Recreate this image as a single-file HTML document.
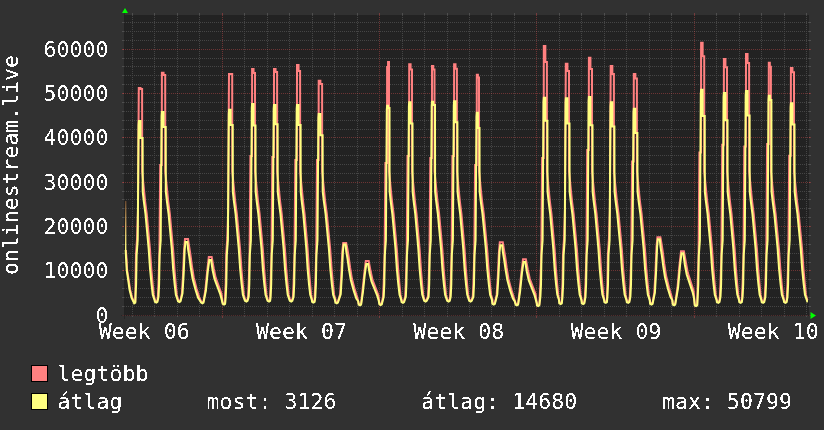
<!DOCTYPE html>
<html><head><meta charset="utf-8"><style>
html,body{margin:0;padding:0;background:#313131;overflow:hidden;}
svg{display:block;}
text{filter:url(#crisp);font-family:"DejaVu Sans Mono","Liberation Mono",monospace;font-size:21.5px;letter-spacing:0.056px;fill:#ffffff;}
</style></head><body>
<svg width="824" height="430" viewBox="0 0 824 430">
<rect x="0" y="0" width="824" height="430" fill="#313131"/>
<rect x="124" y="15" width="685" height="301" fill="#222222"/>

<path d="M124,306.5H809M124,297.5H809M124,288.5H809M124,279.5H809M124,262.5H809M124,253.5H809M124,244.5H809M124,235.5H809M124,217.5H809M124,208.5H809M124,199.5H809M124,191.5H809M124,173.5H809M124,164.5H809M124,155.5H809M124,146.5H809M124,129.5H809M124,120.5H809M124,111.5H809M124,102.5H809M124,84.5H809M124,75.5H809M124,66.5H809M124,58.5H809M124,40.5H809M124,31.5H809M124,22.5H809M132.5,15V316M154.5,15V316M177.5,15V316M199.5,15V316M244.5,15V316M267.5,15V316M289.5,15V316M312.5,15V316M334.5,15V316M357.5,15V316M402.5,15V316M424.5,15V316M447.5,15V316M469.5,15V316M491.5,15V316M514.5,15V316M559.5,15V316M581.5,15V316M604.5,15V316M626.5,15V316M649.5,15V316M671.5,15V316M716.5,15V316M739.5,15V316M761.5,15V316M784.5,15V316M806.5,15V316" stroke="rgb(143,143,143)" stroke-opacity="0.32" stroke-width="1" shape-rendering="crispEdges" fill="none" stroke-dasharray="1 1"/>
<path d="M122,306.5H124M809,306.5H811M122,297.5H124M809,297.5H811M122,288.5H124M809,288.5H811M122,279.5H124M809,279.5H811M122,262.5H124M809,262.5H811M122,253.5H124M809,253.5H811M122,244.5H124M809,244.5H811M122,235.5H124M809,235.5H811M122,217.5H124M809,217.5H811M122,208.5H124M809,208.5H811M122,199.5H124M809,199.5H811M122,191.5H124M809,191.5H811M122,173.5H124M809,173.5H811M122,164.5H124M809,164.5H811M122,155.5H124M809,155.5H811M122,146.5H124M809,146.5H811M122,129.5H124M809,129.5H811M122,120.5H124M809,120.5H811M122,111.5H124M809,111.5H811M122,102.5H124M809,102.5H811M122,84.5H124M809,84.5H811M122,75.5H124M809,75.5H811M122,66.5H124M809,66.5H811M122,58.5H124M809,58.5H811M122,40.5H124M809,40.5H811M122,31.5H124M809,31.5H811M122,22.5H124M809,22.5H811M132.5,13V15M132.5,316V317M154.5,13V15M154.5,316V317M177.5,13V15M177.5,316V317M199.5,13V15M199.5,316V317M244.5,13V15M244.5,316V317M267.5,13V15M267.5,316V317M289.5,13V15M289.5,316V317M312.5,13V15M312.5,316V317M334.5,13V15M334.5,316V317M357.5,13V15M357.5,316V317M402.5,13V15M402.5,316V317M424.5,13V15M424.5,316V317M447.5,13V15M447.5,316V317M469.5,13V15M469.5,316V317M491.5,13V15M491.5,316V317M514.5,13V15M514.5,316V317M559.5,13V15M559.5,316V317M581.5,13V15M581.5,316V317M604.5,13V15M604.5,316V317M626.5,13V15M626.5,316V317M649.5,13V15M649.5,316V317M671.5,13V15M671.5,316V317M716.5,13V15M716.5,316V317M739.5,13V15M739.5,316V317M761.5,13V15M761.5,316V317M784.5,13V15M784.5,316V317M806.5,13V15M806.5,316V317" stroke="rgb(143,143,143)" stroke-opacity="0.32" stroke-width="1" shape-rendering="crispEdges" fill="none"/>
<path d="M123,315.5H811M123,270.5H811M123,226.5H811M123,182.5H811M123,137.5H811M123,93.5H811M123,49.5H811M222.5,15V316M379.5,15V316M536.5,15V316M694.5,15V316" stroke="rgb(222,79,79)" stroke-opacity="0.40" stroke-width="1" shape-rendering="crispEdges" fill="none" stroke-dasharray="1 1"/>
<path d="M122,315.5H124M809,315.5H811M122,270.5H124M809,270.5H811M122,226.5H124M809,226.5H811M122,182.5H124M809,182.5H811M122,137.5H124M809,137.5H811M122,93.5H124M809,93.5H811M122,49.5H124M809,49.5H811M222.5,13V15M222.5,316V318M379.5,13V15M379.5,316V318M536.5,13V15M536.5,316V318M694.5,13V15M694.5,316V318" stroke="rgb(222,79,79)" stroke-opacity="0.40" stroke-width="1" shape-rendering="crispEdges" fill="none"/>
<defs><filter id="crisp" x="0" y="0" width="100%" height="100%" color-interpolation-filters="sRGB"><feComponentTransfer><feFuncA type="discrete" tableValues="0 1"/></feComponentTransfer></filter></defs>
<defs><linearGradient id="g0" x1="0" y1="0" x2="0" y2="1"><stop offset="0" stop-color="#6a4a30"/><stop offset="0.5" stop-color="#d0a860"/><stop offset="1" stop-color="#ffff80"/></linearGradient></defs>
<rect x="125" y="201" width="1.4" height="50" fill="url(#g0)"/>
<path d="M125.90,250.00 L126.60,260.00 L127.10,270.00 L128.70,280.00 L130.10,289.50 L132.10,297.50 L134.20,302.30 L135.30,301.50 L135.50,283.14 L136.00,254.32 L137.10,237.92 L138.00,209.10 L138.80,87.90 L140.50,87.90 L140.50,89.10 L142.10,89.10 L142.15,171.42 L145.09,201.12 L146.72,213.53 L148.35,231.27 L149.98,249.00 L151.34,268.95 L152.72,284.47 L153.71,294.66 L155.10,300.70 L156.30,301.50 L157.40,300.70 L157.90,295.99 L158.50,283.14 L159.40,254.32 L160.20,165.00 L161.80,165.00 L161.90,72.80 L163.55,72.80 L163.55,74.90 L165.20,74.90 L165.25,171.42 L168.19,201.12 L169.82,213.53 L171.45,231.27 L173.08,249.00 L174.44,268.95 L175.81,284.47 L176.81,294.66 L178.20,300.20 L179.40,301.00 L180.50,300.20 L181.90,293.45 L183.00,275.07 L184.10,249.35 L185.00,239.00 L188.00,239.00 L189.20,246.70 L190.40,254.35 L191.90,265.81 L193.70,277.28 L196.60,288.75 L199.20,297.15 L201.10,301.50 L202.40,302.30 L203.50,301.50 L205.30,290.52 L207.20,271.10 L208.80,257.00 L211.70,257.00 L213.70,268.17 L215.60,277.40 L218.90,286.64 L221.40,293.57 L222.70,302.70 L224.00,303.50 L225.10,302.70 L225.10,295.99 L225.70,283.14 L226.20,254.32 L227.30,237.92 L228.20,209.10 L229.00,73.90 L230.65,73.90 L230.65,73.90 L232.20,73.90 L232.25,171.42 L235.19,201.12 L236.82,213.53 L238.45,231.27 L240.08,249.00 L241.44,268.95 L242.81,284.47 L243.81,294.66 L245.20,299.80 L246.40,300.60 L247.50,299.80 L248.10,295.99 L248.70,283.14 L249.60,254.32 L250.40,156.00 L252.00,156.00 L252.10,69.00 L253.55,69.00 L253.55,73.00 L255.00,73.00 L255.05,171.42 L257.97,201.12 L259.58,213.53 L261.19,231.27 L262.80,249.00 L264.14,268.95 L265.49,284.47 L266.47,294.66 L267.80,299.80 L269.00,300.60 L270.10,299.80 L270.60,283.14 L271.50,254.32 L272.30,157.00 L273.90,157.00 L274.00,69.00 L275.55,69.00 L275.55,72.10 L277.10,72.10 L277.15,171.42 L280.08,201.12 L281.70,213.53 L283.32,231.27 L284.94,249.00 L286.29,268.95 L287.65,284.47 L288.64,294.66 L290.00,299.70 L291.20,300.50 L292.30,299.70 L293.00,295.99 L293.60,283.14 L294.50,254.32 L295.30,160.00 L296.90,160.00 L297.00,65.10 L298.55,65.10 L298.55,71.10 L300.10,71.10 L300.15,171.42 L303.02,201.12 L304.56,213.53 L306.10,231.27 L307.63,249.00 L308.91,268.95 L310.20,284.47 L311.12,294.66 L312.30,300.70 L313.50,301.50 L314.60,300.70 L314.70,295.99 L315.30,283.14 L316.20,254.32 L317.00,160.00 L318.60,160.00 L318.70,80.70 L320.40,80.70 L320.40,84.00 L322.10,84.00 L322.15,171.42 L325.13,201.12 L326.82,213.53 L328.51,231.27 L330.20,249.00 L331.61,268.95 L333.04,284.47 L334.08,294.66 L335.59,299.98 L335.60,301.50 L336.80,302.30 L337.90,301.50 L340.10,294.20 L341.20,276.45 L342.30,251.60 L343.20,243.00 L346.20,243.00 L347.40,249.04 L348.60,256.43 L350.10,267.50 L351.90,278.58 L354.80,289.66 L357.40,297.78 L358.70,303.60 L360.00,304.40 L361.10,303.60 L362.30,292.32 L364.20,274.30 L365.80,261.00 L368.70,261.00 L370.70,271.58 L372.60,280.15 L375.90,288.72 L378.40,295.15 L379.40,303.20 L380.70,304.00 L381.80,303.20 L383.10,295.99 L383.70,283.14 L384.60,254.32 L385.40,163.00 L387.00,163.00 L387.10,67.00 L388.05,67.00 L388.05,62.10 L389.00,62.10 L389.05,171.42 L391.97,201.12 L393.58,213.53 L395.19,231.27 L396.80,249.00 L398.14,268.95 L399.49,284.47 L400.47,294.66 L401.80,301.00 L403.00,301.80 L404.10,301.00 L405.20,295.99 L405.80,283.14 L406.70,254.32 L407.50,156.00 L409.10,156.00 L409.20,64.20 L410.60,64.20 L410.60,69.40 L412.00,69.40 L412.05,171.42 L414.94,201.12 L416.50,213.53 L418.06,231.27 L419.62,249.00 L420.92,268.95 L422.23,284.47 L423.17,294.66 L424.40,299.80 L425.60,300.60 L426.70,299.80 L428.00,295.99 L428.60,283.14 L429.50,254.32 L430.30,158.00 L431.90,158.00 L432.00,66.10 L433.25,66.10 L433.25,69.40 L434.50,69.40 L434.55,171.42 L437.48,201.12 L439.10,213.53 L440.72,231.27 L442.34,249.00 L443.69,268.95 L445.05,284.47 L446.04,294.66 L447.40,299.80 L448.60,300.60 L449.70,299.80 L450.10,295.99 L450.70,283.14 L451.60,254.32 L452.40,156.00 L454.00,156.00 L454.10,64.20 L455.50,64.20 L455.50,68.80 L456.90,68.80 L456.95,171.42 L459.85,201.12 L461.42,213.53 L462.99,231.27 L464.56,249.00 L465.87,268.95 L467.19,284.47 L468.14,294.66 L469.40,299.80 L470.60,300.60 L471.70,299.80 L472.80,295.99 L473.40,283.14 L474.30,254.32 L475.10,165.00 L476.70,165.00 L476.80,74.80 L477.90,74.80 L477.90,77.60 L479.00,77.60 L479.05,171.42 L482.04,201.12 L483.74,213.53 L485.44,231.27 L487.15,249.00 L488.57,268.95 L490.01,284.47 L491.06,294.66 L492.58,299.98 L492.60,302.70 L493.80,303.50 L494.90,302.70 L496.70,294.41 L497.80,276.83 L498.90,252.23 L499.80,242.20 L502.80,242.20 L504.00,249.70 L505.20,257.01 L506.70,267.98 L508.50,278.94 L511.40,289.91 L514.00,297.95 L515.70,303.60 L517.00,304.40 L518.10,303.60 L519.50,291.43 L521.40,272.70 L523.00,259.30 L525.90,259.30 L527.90,269.88 L529.80,278.78 L533.10,287.68 L535.60,294.36 L536.90,304.40 L538.20,305.20 L539.30,304.40 L539.80,295.99 L540.40,283.14 L541.30,254.32 L542.10,158.00 L543.70,158.00 L543.80,45.90 L545.35,45.90 L545.35,62.10 L546.90,62.10 L546.95,171.42 L549.86,201.12 L551.44,213.53 L553.02,231.27 L554.61,249.00 L555.93,268.95 L557.25,284.47 L558.22,294.66 L559.50,302.20 L560.70,303.00 L561.80,302.20 L561.90,295.99 L562.50,283.14 L563.00,254.32 L564.10,237.92 L565.00,209.10 L565.80,63.80 L567.45,63.80 L567.45,71.10 L569.00,71.10 L569.05,171.42 L571.99,201.12 L573.62,213.53 L575.25,231.27 L576.88,249.00 L578.24,268.95 L579.62,284.47 L580.61,294.66 L582.00,302.20 L583.20,303.00 L584.30,302.20 L584.90,295.99 L585.50,283.14 L586.40,254.32 L587.20,150.00 L588.80,150.00 L588.90,57.70 L590.45,57.70 L590.45,69.00 L592.00,69.00 L592.05,171.42 L594.96,201.12 L596.54,213.53 L598.12,231.27 L599.71,249.00 L601.03,268.95 L602.35,284.47 L603.32,294.66 L604.60,301.00 L605.80,301.80 L606.90,301.00 L607.40,283.14 L607.90,254.32 L609.00,237.92 L609.90,209.10 L610.70,65.90 L612.35,65.90 L612.35,74.10 L613.90,74.10 L613.95,171.42 L616.90,201.12 L618.54,213.53 L620.18,231.27 L621.83,249.00 L623.20,268.95 L624.58,284.47 L625.59,294.66 L627.00,301.00 L628.20,301.80 L629.30,301.00 L629.80,295.99 L630.40,283.14 L631.30,254.32 L632.10,161.50 L633.70,161.50 L633.80,73.90 L635.35,73.90 L635.35,78.40 L636.90,78.40 L636.95,171.42 L639.92,201.12 L641.60,213.53 L643.28,231.27 L644.96,249.00 L646.36,268.95 L647.77,284.47 L648.81,294.66 L650.30,302.70 L651.50,303.50 L652.60,302.70 L654.30,292.61 L655.40,273.53 L656.50,246.83 L657.40,237.20 L660.40,237.20 L661.60,244.08 L662.80,252.02 L664.30,263.92 L666.10,275.82 L669.00,287.73 L671.60,296.46 L672.80,303.60 L674.10,304.40 L675.20,303.60 L677.50,287.51 L679.40,265.74 L681.00,251.20 L683.90,251.20 L685.90,262.46 L687.80,272.81 L691.10,283.16 L693.60,290.92 L694.80,304.40 L696.10,305.20 L697.20,304.40 L697.70,283.14 L698.60,254.32 L699.40,152.60 L701.00,152.60 L701.10,42.80 L702.65,42.80 L702.65,56.20 L704.20,56.20 L704.25,171.42 L707.18,201.12 L708.80,213.53 L710.42,231.27 L712.04,249.00 L713.39,268.95 L714.75,284.47 L715.74,294.66 L717.10,301.00 L718.30,301.80 L719.40,301.00 L719.90,295.99 L720.50,283.14 L721.40,254.32 L722.20,144.70 L723.80,144.70 L723.90,59.10 L725.45,59.10 L725.45,67.30 L727.00,67.30 L727.05,171.42 L729.95,201.12 L731.52,213.53 L733.09,231.27 L734.66,249.00 L735.97,268.95 L737.29,284.47 L738.24,294.66 L739.50,301.00 L740.70,301.80 L741.80,301.00 L742.00,295.99 L742.60,283.14 L743.50,254.32 L744.30,146.60 L745.90,146.60 L746.00,54.00 L747.55,54.00 L747.55,63.10 L749.10,63.10 L749.15,171.42 L752.07,201.12 L753.68,213.53 L755.29,231.27 L756.90,249.00 L758.24,268.95 L759.59,284.47 L760.57,294.66 L761.90,301.00 L763.10,301.80 L764.20,301.00 L764.80,295.99 L765.40,283.14 L766.30,254.32 L767.10,143.90 L768.70,143.90 L768.80,62.80 L769.85,62.80 L769.85,66.80 L770.90,66.80 L770.95,171.42 L773.92,201.12 L775.60,213.53 L777.28,231.27 L778.96,249.00 L780.36,268.95 L781.77,284.47 L782.81,294.66 L784.30,301.00 L785.50,301.80 L786.60,301.00 L786.90,295.99 L787.50,283.14 L788.40,254.32 L789.20,155.70 L790.80,155.70 L790.90,68.00 L792.45,68.00 L792.45,72.20 L794.00,72.20 L794.05,171.42 L797.02,201.12 L798.70,213.53 L800.38,231.27 L802.06,249.00 L803.46,268.95 L804.88,284.47 L805.91,294.66 L807.40,300.20 L808.00,300.40" fill="none" stroke="#ff8080" stroke-width="2" stroke-linejoin="miter" stroke-miterlimit="2"/>
<path d="M125.50,250.00 L126.20,260.00 L126.70,270.00 L128.20,280.00 L129.60,290.00 L131.60,298.00 L134.20,303.30 L135.30,302.60 L135.50,296.88 L136.10,284.47 L136.60,255.21 L137.70,240.13 L138.60,125.00 L138.90,121.00 L140.50,121.00 L140.50,138.00 L142.60,138.00 L142.70,191.37 L143.79,201.12 L145.42,213.53 L147.05,231.27 L148.68,249.00 L150.04,268.95 L151.54,284.47 L152.76,294.66 L154.53,299.98 L154.90,301.80 L156.30,302.50 L157.40,301.80 L158.50,296.88 L159.10,284.47 L159.60,255.21 L160.70,240.13 L161.60,115.90 L161.90,111.90 L163.55,111.90 L163.55,127.10 L165.70,127.10 L165.80,191.37 L166.89,201.12 L168.52,213.53 L170.15,231.27 L171.78,249.00 L173.14,268.95 L174.64,284.47 L175.86,294.66 L177.63,299.98 L178.00,301.30 L179.40,302.00 L180.50,301.30 L182.50,293.45 L183.60,275.07 L184.70,249.35 L185.50,242.00 L187.40,242.00 L188.10,249.35 L189.30,256.70 L190.80,267.73 L192.60,278.75 L195.50,289.77 L198.10,297.86 L200.00,300.80 L201.10,302.60 L202.40,303.30 L203.50,302.60 L205.90,290.52 L207.80,271.10 L209.30,260.00 L211.10,260.00 L212.60,269.99 L214.50,278.87 L217.80,287.75 L220.30,294.41 L221.80,299.96 L222.70,303.80 L224.00,304.50 L225.10,303.80 L225.70,296.88 L226.30,284.47 L226.80,255.21 L227.90,240.13 L228.80,113.70 L229.10,109.70 L230.65,109.70 L230.65,124.90 L232.70,124.90 L232.80,191.37 L233.89,201.12 L235.52,213.53 L237.15,231.27 L238.78,249.00 L240.14,268.95 L241.64,284.47 L242.86,294.66 L244.63,299.98 L245.00,300.90 L246.40,301.60 L247.50,300.90 L248.70,296.88 L249.30,284.47 L249.80,255.21 L250.90,240.13 L251.80,107.90 L252.10,103.90 L253.55,103.90 L253.55,125.50 L255.50,125.50 L255.60,191.37 L256.67,201.12 L258.28,213.53 L259.89,231.27 L261.50,249.00 L262.84,268.95 L264.31,284.47 L265.52,294.66 L267.26,299.98 L267.60,300.90 L269.00,301.60 L270.10,300.90 L270.60,296.88 L271.20,284.47 L271.70,255.21 L272.80,240.13 L273.70,108.90 L274.00,104.90 L275.55,104.90 L275.55,124.30 L277.60,124.30 L277.70,191.37 L278.78,201.12 L280.40,213.53 L282.02,231.27 L283.64,249.00 L284.99,268.95 L286.48,284.47 L287.69,294.66 L289.44,299.98 L289.80,300.80 L291.20,301.50 L292.30,300.80 L293.60,296.88 L294.20,284.47 L294.70,255.21 L295.80,240.13 L296.70,108.90 L297.00,104.90 L298.55,104.90 L298.55,124.90 L300.60,124.90 L300.70,191.37 L301.72,201.12 L303.26,213.53 L304.80,231.27 L306.33,249.00 L307.61,268.95 L309.02,284.47 L310.17,294.66 L311.84,299.98 L312.10,301.80 L313.50,302.50 L314.60,301.80 L315.30,296.88 L315.90,284.47 L316.40,255.21 L317.50,240.13 L318.40,118.00 L318.70,114.00 L320.40,114.00 L320.40,135.20 L322.60,135.20 L322.70,191.37 L323.83,201.12 L325.52,213.53 L327.21,231.27 L328.90,249.00 L330.31,268.95 L331.87,284.47 L333.13,294.66 L334.97,299.98 L335.40,302.60 L336.80,303.30 L337.90,302.60 L340.70,294.20 L341.80,276.45 L342.90,251.60 L343.70,244.50 L345.60,244.50 L346.30,251.60 L347.50,258.70 L349.00,269.35 L350.80,280.00 L353.70,290.65 L356.30,298.46 L358.20,301.30 L358.70,304.70 L360.00,305.40 L361.10,304.70 L362.90,292.32 L364.80,274.30 L366.30,264.00 L368.10,264.00 L369.60,273.27 L371.50,281.51 L374.80,289.75 L377.30,295.93 L378.80,301.08 L379.40,304.30 L380.70,305.00 L381.80,304.30 L383.70,296.88 L384.30,284.47 L384.80,255.21 L385.90,240.13 L386.80,109.70 L387.10,105.70 L388.05,105.70 L388.05,108.00 L389.50,108.00 L389.60,191.37 L390.67,201.12 L392.28,213.53 L393.89,231.27 L395.50,249.00 L396.84,268.95 L398.31,284.47 L399.52,294.66 L401.26,299.98 L401.60,302.10 L403.00,302.80 L404.10,302.10 L405.80,296.88 L406.40,284.47 L406.90,255.21 L408.00,240.13 L408.90,106.20 L409.20,102.20 L410.60,102.20 L410.60,123.50 L412.50,123.50 L412.60,191.37 L413.64,201.12 L415.20,213.53 L416.76,231.27 L418.32,249.00 L419.62,268.95 L421.05,284.47 L422.22,294.66 L423.91,299.98 L424.20,300.90 L425.60,301.60 L426.70,300.90 L428.60,296.88 L429.20,284.47 L429.70,255.21 L430.80,240.13 L431.70,105.70 L432.00,101.70 L433.25,101.70 L433.25,105.00 L435.00,105.00 L435.10,191.37 L436.18,201.12 L437.80,213.53 L439.42,231.27 L441.04,249.00 L442.39,268.95 L443.88,284.47 L445.09,294.66 L446.85,299.98 L447.20,300.90 L448.60,301.60 L449.70,300.90 L450.70,296.88 L451.30,284.47 L451.80,255.21 L452.90,240.13 L453.80,105.30 L454.10,101.30 L455.50,101.30 L455.50,122.30 L457.40,122.30 L457.50,191.37 L458.55,201.12 L460.12,213.53 L461.69,231.27 L463.26,249.00 L464.57,268.95 L466.02,284.47 L467.19,294.66 L468.90,299.98 L469.20,300.90 L470.60,301.60 L471.70,300.90 L473.40,296.88 L474.00,284.47 L474.50,255.21 L475.60,240.13 L476.50,116.70 L476.80,112.70 L477.90,112.70 L477.90,128.00 L479.50,128.00 L479.60,191.37 L480.74,201.12 L482.44,213.53 L484.14,231.27 L485.85,249.00 L487.27,268.95 L488.83,284.47 L490.11,294.66 L491.95,299.98 L492.40,303.80 L493.80,304.50 L494.90,303.80 L497.30,294.41 L498.40,276.83 L499.50,252.23 L500.30,245.20 L502.20,245.20 L502.90,252.23 L504.10,259.26 L505.60,269.81 L507.40,280.35 L510.30,290.89 L512.90,298.63 L514.80,301.44 L515.70,304.70 L517.00,305.40 L518.10,304.70 L520.10,291.43 L522.00,272.70 L523.50,262.00 L525.30,262.00 L526.80,271.63 L528.70,280.19 L532.00,288.75 L534.50,295.17 L536.00,300.52 L536.90,303.73 L536.90,305.50 L538.20,306.20 L539.30,305.50 L540.40,296.88 L541.00,284.47 L541.50,255.21 L542.60,240.13 L543.50,101.70 L543.80,97.70 L545.35,97.70 L545.35,120.80 L547.40,120.80 L547.50,191.37 L548.56,201.12 L550.14,213.53 L551.72,231.27 L553.31,249.00 L554.63,268.95 L556.08,284.47 L557.27,294.66 L558.98,299.98 L559.30,303.30 L560.70,304.00 L561.80,303.30 L562.50,296.88 L563.10,284.47 L563.60,255.21 L564.70,240.13 L565.60,102.20 L565.90,98.20 L567.45,98.20 L567.45,123.40 L569.50,123.40 L569.60,191.37 L570.69,201.12 L572.32,213.53 L573.95,231.27 L575.58,249.00 L576.94,268.95 L578.44,284.47 L579.66,294.66 L581.43,299.98 L581.80,303.30 L583.20,304.00 L584.30,303.30 L585.50,296.88 L586.10,284.47 L586.60,255.21 L587.70,240.13 L588.60,101.00 L588.90,97.00 L590.45,97.00 L590.45,125.20 L592.50,125.20 L592.60,191.37 L593.66,201.12 L595.24,213.53 L596.82,231.27 L598.41,249.00 L599.73,268.95 L601.18,284.47 L602.37,294.66 L604.08,299.98 L604.40,302.10 L605.80,302.80 L606.90,302.10 L607.40,296.88 L608.00,284.47 L608.50,255.21 L609.60,240.13 L610.50,106.20 L610.80,102.20 L612.35,102.20 L612.35,126.40 L614.40,126.40 L614.50,191.37 L615.60,201.12 L617.24,213.53 L618.88,231.27 L620.53,249.00 L621.90,268.95 L623.41,284.47 L624.64,294.66 L626.42,299.98 L626.80,302.10 L628.20,302.80 L629.30,302.10 L630.40,296.88 L631.00,284.47 L631.50,255.21 L632.60,240.13 L633.50,112.80 L633.80,108.80 L635.35,108.80 L635.35,133.00 L637.40,133.00 L637.50,191.37 L638.62,201.12 L640.30,213.53 L641.98,231.27 L643.66,249.00 L645.06,268.95 L646.60,284.47 L647.86,294.66 L649.68,299.98 L650.10,303.80 L651.50,304.50 L652.60,303.80 L654.90,292.61 L656.00,273.53 L657.10,246.83 L657.90,239.20 L659.80,239.20 L660.50,246.83 L661.70,254.46 L663.20,265.90 L665.00,277.35 L667.90,288.80 L670.50,297.19 L672.40,300.24 L672.80,304.70 L674.10,305.40 L675.20,304.70 L678.10,287.51 L680.00,265.74 L681.50,253.30 L683.30,253.30 L684.80,264.50 L686.70,274.45 L690.00,284.40 L692.50,291.86 L694.00,298.08 L694.80,305.50 L696.10,306.20 L697.20,305.50 L697.70,296.88 L698.30,284.47 L698.80,255.21 L699.90,240.13 L700.80,93.70 L701.10,89.70 L702.65,89.70 L702.65,116.00 L704.70,116.00 L704.80,191.37 L705.88,201.12 L707.50,213.53 L709.12,231.27 L710.74,249.00 L712.09,268.95 L713.58,284.47 L714.79,294.66 L716.54,299.98 L716.90,302.10 L718.30,302.80 L719.40,302.10 L720.50,296.88 L721.10,284.47 L721.60,255.21 L722.70,240.13 L723.60,96.90 L723.90,92.90 L725.45,92.90 L725.45,120.30 L727.50,120.30 L727.60,191.37 L728.65,201.12 L730.22,213.53 L731.79,231.27 L733.36,249.00 L734.67,268.95 L736.12,284.47 L737.29,294.66 L739.00,299.98 L739.30,302.10 L740.70,302.80 L741.80,302.10 L742.60,296.88 L743.20,284.47 L743.70,255.21 L744.80,240.13 L745.70,95.00 L746.00,91.00 L747.55,91.00 L747.55,115.60 L749.60,115.60 L749.70,191.37 L750.77,201.12 L752.38,213.53 L753.99,231.27 L755.60,249.00 L756.94,268.95 L758.41,284.47 L759.62,294.66 L761.36,299.98 L761.70,302.10 L763.10,302.80 L764.20,302.10 L765.40,296.88 L766.00,284.47 L766.50,255.21 L767.60,240.13 L768.50,99.80 L768.80,95.80 L769.85,95.80 L769.85,100.00 L771.40,100.00 L771.50,191.37 L772.62,201.12 L774.30,213.53 L775.98,231.27 L777.66,249.00 L779.06,268.95 L780.60,284.47 L781.86,294.66 L783.68,299.98 L784.10,302.10 L785.50,302.80 L786.60,302.10 L787.50,296.88 L788.10,284.47 L788.60,255.21 L789.70,240.13 L790.60,107.30 L790.90,103.30 L792.45,103.30 L792.45,124.40 L794.50,124.40 L794.60,191.37 L795.72,201.12 L797.40,213.53 L799.08,231.27 L800.76,249.00 L802.16,268.95 L803.70,284.47 L804.96,294.66 L806.78,299.98 L807.20,301.30 L808.00,301.20" fill="none" stroke="#ffff80" stroke-width="2" stroke-linejoin="miter" stroke-miterlimit="2"/>
<path d="M121,315.5H124M809,315.5H810M124.5,316V319M124.5,11V15" stroke="rgb(31,31,31)" stroke-opacity="0.6" stroke-width="1" shape-rendering="crispEdges" fill="none"/>
<path d="M124.5,15V316M125,315.5H809" stroke="rgb(31,31,31)" stroke-opacity="0.35" stroke-width="1" shape-rendering="crispEdges" fill="none"/>
<polygon points="122,13 128,13 125,8" fill="#00ff00"/>
<polygon points="810.5,312 810.5,319 816,315.5" fill="#00ff00"/>
<text x="95.45" y="323.00">0</text>
<text x="43.45" y="278.00">10000</text>
<text x="43.45" y="234.00">20000</text>
<text x="43.45" y="190.00">30000</text>
<text x="43.45" y="145.00">40000</text>
<text x="43.45" y="101.00">50000</text>
<text x="43.45" y="57.00">60000</text>
<text x="98.71" y="339.00">Week 06</text>
<text x="255.99" y="339.00">Week 07</text>
<text x="413.26" y="339.00">Week 08</text>
<text x="570.54" y="339.00">Week 09</text>
<text x="727.82" y="339.00">Week 10</text>
<text transform="translate(18,275) rotate(-90)" x="0" y="0" style="letter-spacing:-0.004px">onlinestream.live</text>
<rect x="31" y="365" width="17" height="17" fill="#000"/><rect x="32" y="366" width="15" height="15" fill="#ff8080"/>
<rect x="31" y="393" width="17" height="17" fill="#000"/><rect x="32" y="394" width="15" height="15" fill="#ffff80"/>
<text x="57.50" y="381.00">legtöbb</text>
<text x="57.50" y="408.50">átlag</text>
<text x="206.50" y="408.50">most: 3126</text>
<text x="421.30" y="408.50">átlag: 14680</text>
<text x="662.00" y="408.50">max: 50799</text>
</svg></body></html>
